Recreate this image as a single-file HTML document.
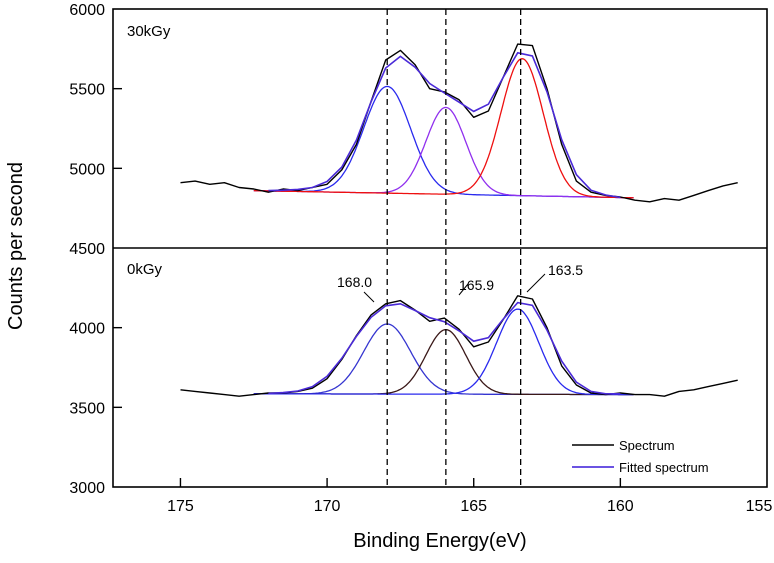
<!DOCTYPE html>
<html><head><meta charset="utf-8"><style>
body{margin:0;background:#fff;}
svg text{font-family:"Liberation Sans",Arial,sans-serif;}
</style></head><body>
<svg id="chart" width="774" height="558"></svg>
<script>
const xStart = 175, xStep = 0.5;
const topSpectrum = [4910,4920,4900,4910,4880,4870,4850,4870,4860,4880,4900,4990,5150,5420,5680,5740,5650,5500,5480,5430,5320,5360,5570,5780,5770,5500,5150,4920,4850,4830,4820,4800,4790,4810,4800,4830,4860,4890,4910];
const botSpectrum = [3610,3600,3590,3580,3570,3580,3590,3590,3600,3620,3680,3800,3950,4080,4150,4170,4110,4040,4060,3990,3880,3910,4050,4200,4180,4000,3760,3640,3590,3580,3590,3580,3580,3570,3600,3610,3630,3650,3670];
const topPeaks = [[167.95,670,0.8,'#2a2aee'],[165.95,545,0.68,'#9030ee'],[163.35,860,0.72,'#ee1010']];
const botPeaks = [[167.95,440,0.8,'#3535d0'],[165.95,405,0.68,'#3a1818'],[163.5,535,0.72,'#2a2aee']];
const dashPositions = [167.95,165.95,163.4];
const yTicks = [3000,3500,4000,4500,5000,5500,6000];
const xTicks = [175,170,165,160,155];

const L=113,R=767,T=9,B=487,X0=177.3,X1=155,Y0=3000,Y1=6000;
const sx=v=>L+(X0-v)/(X0-X1)*(R-L);
const sy=v=>B-(v-Y0)/(Y1-Y0)*(B-T);
const svg=document.getElementById('chart');
const NS='http://www.w3.org/2000/svg';
function mk(tag,attrs,parent){const e=document.createElementNS(NS,tag);for(const k in attrs)e.setAttribute(k,attrs[k]);(parent||svg).appendChild(e);return e;}

function smooth(arr){return arr.map((v,i)=>{const a=arr[Math.max(0,i-1)],c=arr[Math.min(arr.length-1,i+1)];return (a+2*v+c)/4;});}
function lineFromArr(arr,color,w,name){
  let d='';arr.forEach((v,i)=>{d+=(i?'L':'M')+sx(xStart-i*xStep).toFixed(1)+','+sy(v).toFixed(1);});
  const p=mk('path',{d,fill:'none',stroke:color,'stroke-width':w,'stroke-linejoin':'round'});
  
}
function peaks(list,b0,b1,name){
  list.forEach((pk,j)=>{
    let d='';
    for(let x=172.5;x>=159.5;x-=0.05){
      const base=b0+(b1-b0)*(172.5-x)/13;
      const y=base+pk[1]*Math.exp(-((x-pk[0])**2)/(2*pk[2]*pk[2]));
      d+=(d?'L':'M')+sx(x).toFixed(1)+','+sy(y).toFixed(1);
    }
    const p=mk('path',{d,fill:'none',stroke:pk[3],'stroke-width':1.3});
    
  });
}
peaks(topPeaks,4860,4815,'top');
peaks(botPeaks,3585,3580,'bottom');
lineFromArr(topSpectrum,'#000',1.4,'top-spectrum');
lineFromArr(botSpectrum,'#000',1.4,'bottom-spectrum');
function env(arr,name){const s=smooth(arr);const sub=s.slice(6,31);
  let d='';sub.forEach((v,i)=>{d+=(i?'L':'M')+sx(xStart-(i+6)*xStep).toFixed(1)+','+sy(v).toFixed(1);});
  const p=mk('path',{d,fill:'none',stroke:'#4a2ad8','stroke-width':1.6});
  }
env(topSpectrum,'top-fitted-spectrum');env(botSpectrum,'bottom-fitted-spectrum');

dashPositions.forEach((v,i)=>{const l=mk('line',{x1:sx(v),x2:sx(v),y1:T,y2:B,stroke:'#000','stroke-width':1.3,'stroke-dasharray':'6,4'});
 });

const fr=mk('rect',{x:L,y:T,width:R-L,height:B-T,fill:'none',stroke:'#000','stroke-width':1.6});

const dv=mk('line',{x1:L,x2:R,y1:sy(4500),y2:sy(4500),stroke:'#000','stroke-width':1.4});

yTicks.forEach(v=>{const y=sy(v);
 if(v!==3000&&v!==6000&&v!==4500)mk('line',{x1:L,x2:L+9,y1:y,y2:y,stroke:'#000','stroke-width':1.4});
 const t=mk('text',{x:L-8,y:y+6,'text-anchor':'end','font-size':16});t.textContent=v;
 });
xTicks.forEach(v=>{const x=sx(v);
 if(v!==155)mk('line',{x1:x,x2:x,y1:B,y2:B-9,stroke:'#000','stroke-width':1.4});
 const t=mk('text',{x:v===155?x-8:x,y:B+24,'text-anchor':'middle','font-size':16});t.textContent=v;
 });
</script>
<svg width="774" height="558" style="position:absolute;left:0;top:0">
<text x="127" y="36" font-size="15">30kGy</text>
<text x="127" y="274" font-size="15">0kGy</text>
<text x="337" y="287" font-size="14">168.0</text>
<line x1="364" y1="292" x2="374" y2="302" stroke="#000" stroke-width="1"/>
<text x="459" y="290" font-size="14">165.9</text>
<line x1="459" y1="295" x2="468" y2="284" stroke="#000" stroke-width="1"/>
<text x="548" y="275" font-size="14">163.5</text>
<line x1="527" y1="292" x2="545" y2="274" stroke="#000" stroke-width="1"/>
<line x1="572" y1="445" x2="614" y2="445" stroke="#000" stroke-width="1.6"/>
<text x="619" y="450" font-size="13">Spectrum</text>
<line x1="572" y1="467" x2="614" y2="467" stroke="#3a1ad8" stroke-width="1.6"/>
<text x="619" y="472" font-size="13">Fitted spectrum</text>
<text x="440" y="547" font-size="20" text-anchor="middle">Binding Energy(eV)</text>
<text transform="translate(22,246) rotate(-90)" font-size="20" text-anchor="middle">Counts per second</text>
</svg>
</body></html>
